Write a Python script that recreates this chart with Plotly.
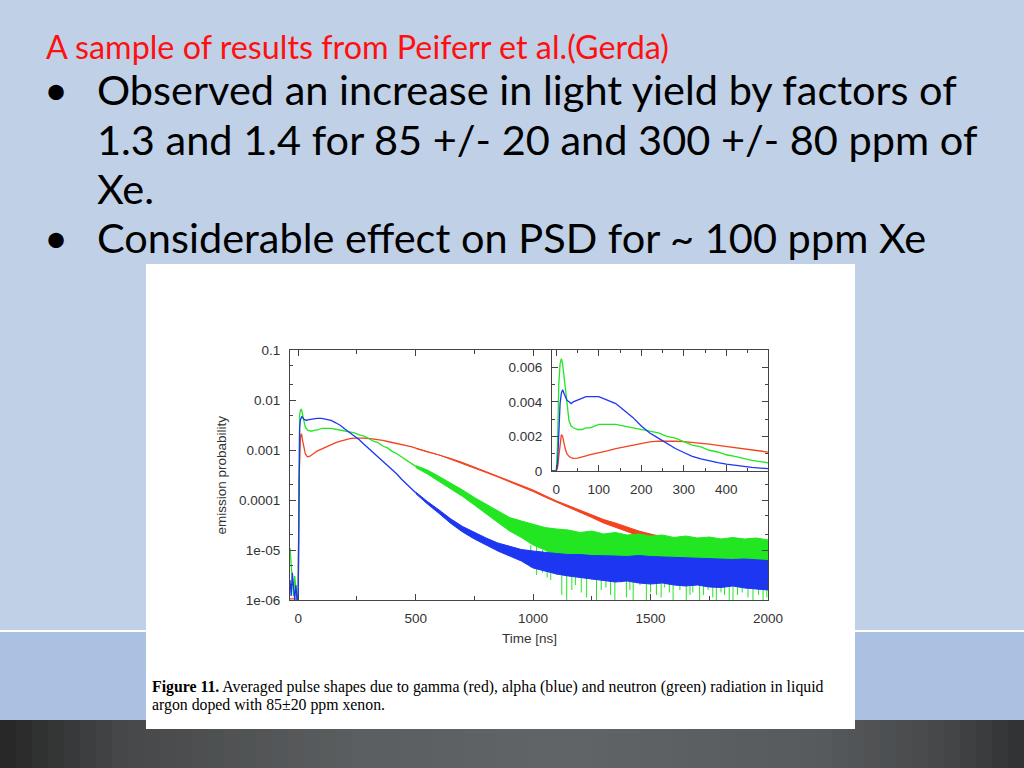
import numpy as np
import plotly.graph_objects as go

# early part of the pulse shapes (time in ns, emission probability)
t_early = [-35, -30, -25, -20, -15, -10, -5, 0, 3, 6, 9, 12, 15, 18, 21, 25, 30, 35, 40, 50,
           60, 70, 80, 90, 100, 120, 140, 160, 180, 200, 220, 240, 260, 280, 300, 320, 340,
           360, 380, 400, 420, 440, 460, 480, 500]
gamma_early = [1.05e-6, 1.05e-6, 1.05e-6, 1.05e-6, 1.05e-6, 1.05e-6, 1.05e-6, 1.05e-6, 2.0e-4, 9.0e-4,
               1.7e-3, 2.1e-3, 2.0e-3, 1.6e-3, 1.3e-3, 1.0e-3, 8.5e-4, 7.7e-4, 7.3e-4, 7.5e-4,
               8.0e-4, 8.8e-4, 9.5e-4, 1.0e-3, 1.06e-3, 1.17e-3, 1.3e-3, 1.4e-3, 1.5e-3, 1.61e-3,
               1.68e-3, 1.73e-3, 1.74e-3, 1.72e-3, 1.7e-3, 1.66e-3, 1.6e-3, 1.55e-3, 1.48e-3, 1.42e-3,
               1.36e-3, 1.3e-3, 1.24e-3, 1.17e-3, 1.09e-3]
alpha_early = [2.5e-6, 1.2e-6, 3.5e-6, 1.5e-6, 1.0e-6, 2.0e-6, 1.0e-6, 1.2e-6, 4.0e-4, 2.7e-3,
               3.9e-3, 4.5e-3, 4.7e-3, 4.5e-3, 4.3e-3, 4.1e-3, 4.0e-3, 3.9e-3, 4.0e-3, 4.1e-3,
               4.2e-3, 4.3e-3, 4.3e-3, 4.3e-3, 4.3e-3, 4.1e-3, 3.9e-3, 3.5e-3, 3.1e-3, 2.6e-3,
               2.2e-3, 1.9e-3, 1.6e-3, 1.3e-3, 1.07e-3, 8.5e-4, 7.0e-4, 5.8e-4, 4.8e-4, 4.0e-4,
               3.3e-4, 2.6e-4, 2.1e-4, 1.7e-4, 1.4e-4]
neutron_early = [1.1e-5, 5.0e-6, 2.5e-6, 1.2e-6, 3.0e-6, 1.5e-6, 1.0e-6, 1.5e-6, 1.5e-3, 5.0e-3,
                 6.2e-3, 6.5e-3, 6.2e-3, 5.5e-3, 4.7e-3, 3.7e-3, 2.9e-3, 2.6e-3, 2.5e-3, 2.4e-3,
                 2.4e-3, 2.5e-3, 2.5e-3, 2.6e-3, 2.7e-3, 2.7e-3, 2.7e-3, 2.6e-3, 2.5e-3, 2.4e-3,
                 2.3e-3, 2.2e-3, 2.0e-3, 1.9e-3, 1.7e-3, 1.5e-3, 1.4e-3, 1.2e-3, 1.1e-3, 9.4e-4,
                 8.4e-4, 7.2e-4, 6.2e-4, 5.4e-4, 4.7e-4]

# tail: noise band (log10 low / high)
t_tail = [500, 550, 600, 650, 700, 750, 800, 850, 900, 950, 1000, 1050, 1100, 1150, 1200, 1250,
          1300, 1350, 1400, 1450, 1500, 1550, 1600, 1650, 1700, 1750, 1800, 1850, 1900, 1950, 2000]
gamma_lo = [-2.97, -3.04, -3.10, -3.18, -3.27, -3.36, -3.45, -3.54, -3.63, -3.73, -3.83, -3.94, -4.05,
            -4.15, -4.25, -4.35, -4.46, -4.54, -4.63, -4.72, -4.79, -4.86, -4.92, -4.95, -5.01, -5.04,
            -5.08, -5.09, -5.12, -5.13, -5.15]
gamma_hi = [-2.96, -3.03, -3.09, -3.17, -3.25, -3.34, -3.43, -3.52, -3.61, -3.71, -3.80, -3.91, -4.02,
            -4.11, -4.20, -4.29, -4.39, -4.46, -4.54, -4.62, -4.68, -4.73, -4.79, -4.81, -4.86, -4.87,
            -4.91, -4.91, -4.94, -4.94, -4.96]
alpha_lo = [-3.87, -4.08, -4.27, -4.47, -4.64, -4.78, -4.90, -5.02, -5.12, -5.22, -5.36, -5.42, -5.48,
            -5.52, -5.56, -5.58, -5.61, -5.64, -5.62, -5.66, -5.68, -5.66, -5.70, -5.72, -5.70, -5.74,
            -5.75, -5.72, -5.76, -5.78, -5.80]
alpha_hi = [-3.84, -4.03, -4.20, -4.38, -4.53, -4.65, -4.76, -4.86, -4.93, -4.99, -5.02, -5.05, -5.07,
            -5.09, -5.09, -5.11, -5.11, -5.12, -5.13, -5.11, -5.13, -5.14, -5.15, -5.16, -5.17, -5.17,
            -5.18, -5.19, -5.18, -5.20, -5.21]
neutron_lo = [-3.35, -3.48, -3.63, -3.78, -3.93, -4.10, -4.27, -4.45, -4.62, -4.75, -4.90, -5.00, -5.10,
              -5.15, -5.20, -5.25, -5.28, -5.30, -5.32, -5.35, -5.36, -5.38, -5.40, -5.40, -5.42, -5.42,
              -5.44, -5.45, -5.46, -5.47, -5.48]
neutron_hi = [-3.31, -3.40, -3.53, -3.66, -3.80, -3.95, -4.08, -4.22, -4.35, -4.42, -4.48, -4.55, -4.58,
              -4.60, -4.65, -4.62, -4.68, -4.65, -4.70, -4.68, -4.72, -4.70, -4.75, -4.72, -4.76, -4.74,
              -4.78, -4.75, -4.78, -4.76, -4.80]

# downward spikes of the neutron trace (log10 top / bottom)
spike_t = [990, 1015, 1040, 1060, 1075, 1100, 1122, 1143, 1165, 1180, 1205, 1228, 1250, 1270, 1290, 1310,
           1330, 1348, 1375, 1397, 1412, 1426, 1455, 1482, 1500, 1525, 1545, 1560, 1580, 1596, 1625, 1652,
           1668, 1680, 1709, 1725, 1745, 1765, 1780, 1800, 1815, 1835, 1851, 1870, 1890, 1915, 1936, 1960,
           1979, 1995]
spike_top = [-4.9, -4.9, -5.0, -5.0, -5.0, -5.1, -5.1, -5.1, -5.1, -5.1, -5.1, -5.2, -5.2, -5.2, -5.2, -5.2,
             -5.2, -5.2, -5.3, -5.3, -5.3, -5.3, -5.3, -5.3, -5.3, -5.3, -5.3, -5.3, -5.3, -5.3, -5.3, -5.3,
             -5.4, -5.4, -5.4, -5.4, -5.4, -5.4, -5.4, -5.4, -5.4, -5.4, -5.4, -5.4, -5.4, -5.4, -5.4, -5.4,
             -5.4, -5.4]
spike_bot = [-5.35, -5.5, -5.45, -5.55, -5.6, -5.5, -5.9, -6.0, -5.8, -5.7, -5.85, -5.95, -5.6, -6.0, -5.8, -5.75,
             -5.9, -6.0, -5.65, -5.95, -5.8, -6.0, -5.7, -6.0, -5.85, -5.9, -5.95, -5.75, -5.85, -6.0, -5.8, -6.0,
             -5.9, -5.85, -6.0, -5.9, -5.8, -5.95, -6.0, -5.85, -5.9, -6.0, -6.0, -5.9, -5.85, -5.95, -6.0, -5.9,
             -6.0, -5.95]

RED = '#f5421e'
GREEN = '#22e622'
BLUE = '#1c36f2'
W, H = 1024, 768


def fx(x):
    return x / W


def fy(y):
    return 1 - y / H


fig = go.Figure()


def band(t, lo, hi, color):
    xs = list(t) + list(t[::-1])
    ys = list(10 ** np.array(hi)) + list(10 ** np.array(lo[::-1]))
    return go.Scatter(x=xs, y=ys, mode='lines', fill='toself', fillcolor=color,
                      line=dict(color=color, width=1), hoverinfo='skip', showlegend=False)


series = [(gamma_early, gamma_lo, gamma_hi, RED),
          (neutron_early, neutron_lo, neutron_hi, GREEN),
          (alpha_early, alpha_lo, alpha_hi, BLUE)]

for early, lo, hi, col in series:
    fig.add_trace(go.Scatter(x=t_early, y=early, mode='lines', line=dict(color=col, width=1.3),
                             showlegend=False))
    fig.add_trace(band(t_tail, lo, hi, col))
    if col == GREEN:
        sx, sy = [], []
        for t, a, b in zip(spike_t, spike_top, spike_bot):
            sx += [t, t, None]
            sy += [10 ** a, 10 ** b, None]
        fig.add_trace(go.Scatter(x=sx, y=sy, mode='lines', line=dict(color=GREEN, width=1),
                                 showlegend=False))

# inset, linear scale
for early, lo, hi, col in series:
    fig.add_trace(go.Scatter(x=t_early, y=early, mode='lines', line=dict(color=col, width=1.3),
                             xaxis='x2', yaxis='y2', showlegend=False))

tick_font = dict(family='Liberation Sans, Arial, sans-serif', size=13.5, color='#333')
axis_common = dict(showline=True, linecolor='#444', linewidth=1, mirror='ticks', ticks='inside',
                   tickcolor='#444', ticklen=6, showgrid=False, zeroline=False, tickfont=tick_font,
                   automargin=False, ticklabelstandoff=6)

fig.update_layout(
    width=W, height=H,
    margin=dict(l=0, r=0, t=0, b=0, pad=0, autoexpand=False),
    paper_bgcolor='#bfd0e7',
    plot_bgcolor='white',
    xaxis=dict(domain=[fx(290), fx(768)], range=[-35, 2000], tickvals=[0, 500, 1000, 1500, 2000],
               minor=dict(dtick=250, tick0=0, ticks='inside', ticklen=4, tickcolor='#444'),
               **axis_common),
    yaxis=dict(domain=[fy(600), fy(350)], type='log', range=[-6, -1],
               tickvals=[1e-6, 1e-5, 1e-4, 1e-3, 1e-2, 1e-1],
               ticktext=['1e-06', '1e-05', '0.0001', '0.001', '0.01', '0.1'],
               minor=dict(dtick='D2', ticks='inside', ticklen=3, tickcolor='#444'),
               **axis_common),
    xaxis2=dict(domain=[fx(552), fx(768)], range=[-10, 498], anchor='y2', tickvals=[0, 100, 200, 300, 400],
                minor=dict(dtick=50, tick0=0, ticks='inside', ticklen=3, tickcolor='#444'),
                **axis_common),
    yaxis2=dict(domain=[fy(471), fy(350)], range=[0, 0.0070], anchor='x2',
                tickvals=[0, 0.002, 0.004, 0.006], ticktext=['0', '0.002', '0.004', '0.006'],
                minor=dict(dtick=0.001, ticks='inside', ticklen=3, tickcolor='#444'),
                **axis_common),
)

# slide background pieces
shapes = [
    dict(type='rect', x0=0, x1=1, y0=fy(720), y1=fy(631), fillcolor='#abc1e2', line_width=0),
    dict(type='line', x0=0, x1=1, y0=fy(631), y1=fy(631), line=dict(color='white', width=2)),
]
# dark footer with a horizontal gradient
stops = [(0.0, (38, 38, 38)), (0.12, (70, 72, 73)), (0.35, (92, 95, 97)), (0.55, (98, 101, 103)),
         (0.8, (88, 91, 93)), (0.92, (70, 72, 74)), (1.0, (48, 49, 50))]
n = 64
for i in range(n):
    p = (i + 0.5) / n
    for (p0, c0), (p1, c1) in zip(stops[:-1], stops[1:]):
        if p0 <= p <= p1:
            f = (p - p0) / (p1 - p0)
            c = tuple(int(a + (b - a) * f) for a, b in zip(c0, c1))
            break
    shapes.append(dict(type='rect', x0=i / n, x1=min((i + 1) / n + 0.002, 1), y0=0, y1=fy(720),
                       fillcolor='rgb(%d,%d,%d)' % c, line_width=0))
shapes.append(dict(type='rect', x0=fx(146), x1=fx(855), y0=fy(729), y1=fy(264),
                   fillcolor='white', line_width=0))
for s in shapes:
    s.update(xref='paper', yref='paper', layer='below')
fig.update_layout(shapes=shapes)

body = dict(family='Lato, Open Sans, sans-serif', size=41.5, color='black')
serif = dict(family='Liberation Serif, Times New Roman, serif', size=15.8, color='black')
ann = [
    dict(x=fx(44), y=fy(47), text='A sample of results from Peiferr et al.(Gerda)',
         font=dict(family='Lato, sans-serif', size=32.3, color='#ff1010')),
    dict(x=fx(42), y=fy(89), text='•', font=body),
    dict(x=fx(95), y=fy(89), text='Observed an increase in light yield by factors of', font=body),
    dict(x=fx(95), y=fy(139), text='1.3 and 1.4 for 85 +/- 20 and 300 +/- 80 ppm of', font=body),
    dict(x=fx(95), y=fy(188), text='Xe.', font=body),
    dict(x=fx(42), y=fy(237), text='•', font=body),
    dict(x=fx(95), y=fy(237), text='Considerable effect on PSD for ~ 100 ppm Xe', font=body),
    dict(x=fx(150), y=fy(687),
         text='<b>Figure 11.</b> Averaged pulse shapes due to gamma (red), alpha (blue) and neutron (green) radiation in liquid',
         font=serif),
    dict(x=fx(150), y=fy(705), text='argon doped with 85±20 ppm xenon.', font=serif),
]
for a in ann:
    a.update(xref='paper', yref='paper', xanchor='left', yanchor='middle', showarrow=False)
ann += [
    dict(x=fx(211), y=fy(475), text='emission probability', textangle=-90, font=tick_font,
         xref='paper', yref='paper', showarrow=False),
    dict(x=fx(529), y=fy(648), text='Time [ns]', font=tick_font,
         xref='paper', yref='paper', showarrow=False),
]
fig.update_layout(annotations=ann)

# pin the page to exactly the figure size, no margins or scrollbars
page_css = """
var st = document.createElement('style');
st.textContent = 'html,body{margin:0;padding:0;width:1024px;height:768px;overflow:hidden;}';
document.head.appendChild(st);
"""
fig.write_html('out.html', config={'displayModeBar': False}, post_script=page_css)
